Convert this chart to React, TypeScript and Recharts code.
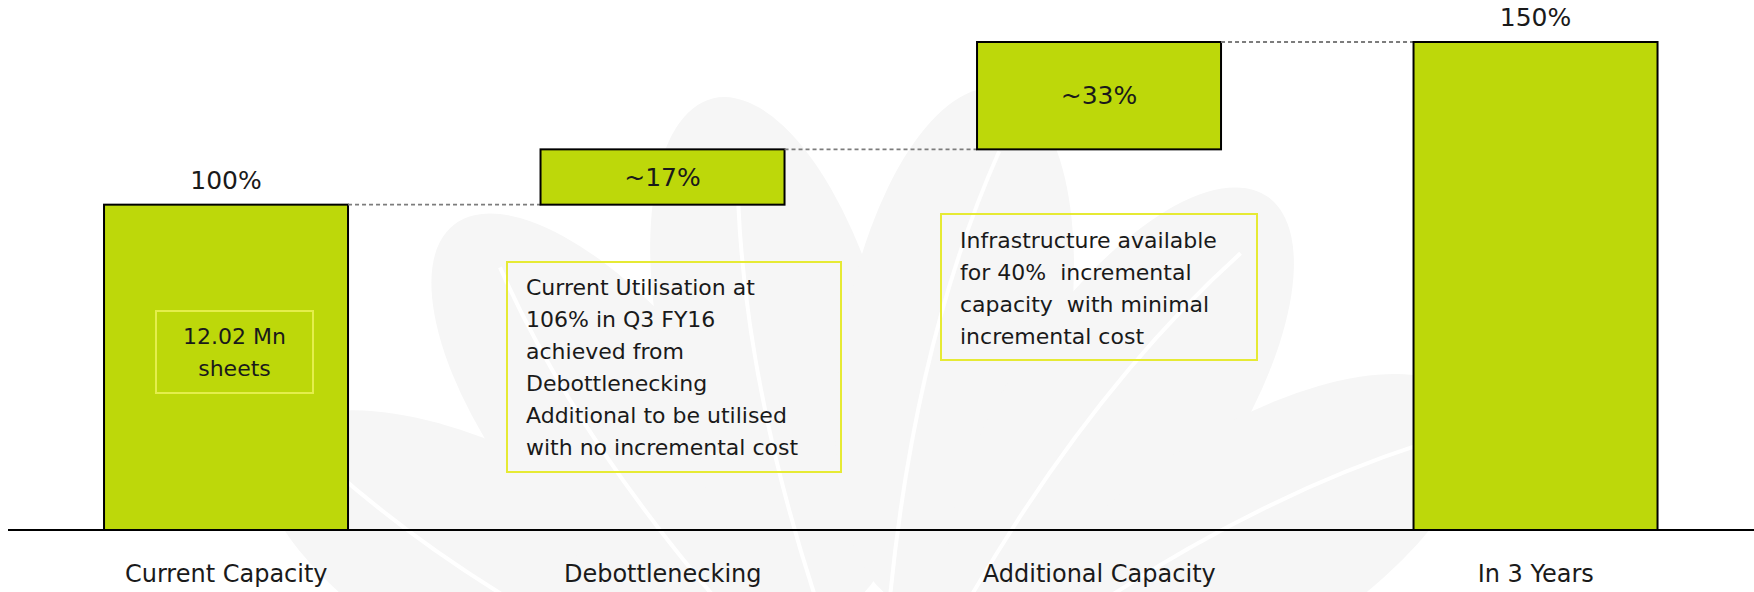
import React from "react";
import { BarChart, Bar, XAxis, YAxis, LabelList } from "recharts";

const categories = ["Current Capacity", "Debottlenecking", "Additional Capacity", "In 3 Years"];
const capacityValues = [100, 17, 33, 150];
const isTotal = [true, false, false, true];
const valueLabels = ["100%", "~17%", "~33%", "150%"];

const capacityNote = ["12.02 Mn", "sheets"];
const debottleneckNote = [
  "Current Utilisation at",
  "106% in Q3 FY16",
  "achieved from",
  "Debottlenecking",
  "Additional to be utilised",
  "with no incremental cost",
];
const infraNote = [
  "Infrastructure available",
  "for 40%  incremental",
  "capacity  with minimal",
  "incremental cost",
];

// waterfall: floating steps sit on the running total, totals start at 0
let running = 0;
const data = categories.map((name, i) => {
  const base = isTotal[i] ? 0 : running;
  running = isTotal[i] ? capacityValues[i] : running + capacityValues[i];
  return { name, base, value: capacityValues[i], label: valueLabels[i], total: isTotal[i] };
});

const FONT = "'DejaVu Sans', Verdana, sans-serif";
const GREEN = "#bdd80a";
const TEXT = "#1a1a1a";

// right edge / top of each drawn bar, so the next bar can draw its connector
const edges: { right: number; top: number }[] = [];

function StepBar(props: any) {
  const { x, y, width, height, payload } = props;
  const i = categories.indexOf(payload.name);
  edges[i] = { right: x + width, top: y };
  const prev = i > 0 ? edges[i - 1] : null;
  return (
    <g>
      {prev && (
        <line
          x1={prev.right}
          y1={prev.top}
          x2={x}
          y2={prev.top}
          stroke="#7c7c7c"
          strokeWidth={1.8}
          strokeDasharray="4 3"
        />
      )}
      <rect x={x} y={y} width={width} height={height} fill={GREEN} stroke="#000" strokeWidth={2} />
    </g>
  );
}

function ValueLabel(props: any) {
  const vb = props.x !== undefined ? props : props.viewBox || {};
  const { x, y, width, height } = vb;
  const i = valueLabels.indexOf(props.value);
  const cx = x + width / 2;
  if (isTotal[i]) {
    return (
      <text x={cx} y={y - 16} textAnchor="middle" fill={TEXT} fontSize={25} fontFamily={FONT}>
        {props.value}
      </text>
    );
  }
  return (
    <text
      x={cx}
      y={y + height / 2}
      textAnchor="middle"
      dominantBaseline="central"
      fill={TEXT}
      fontSize={25}
      fontFamily={FONT}
    >
      {props.value}
    </text>
  );
}

function NoteBox({ lines, style }: { lines: string[]; style: React.CSSProperties }) {
  return (
    <div
      style={{
        position: "absolute",
        boxSizing: "border-box",
        border: "2px solid #e6ea34",
        fontFamily: FONT,
        fontSize: 22,
        lineHeight: "32px",
        color: TEXT,
        whiteSpace: "pre",
        pointerEvents: "none",
        zIndex: 2,
        ...style,
      }}
    >
      {lines.map((l) => (
        <div key={l}>{l}</div>
      ))}
    </div>
  );
}

// faint fan-shaped logo behind the chart
const petalAngles = [-62, -38, -14, 10, 34, 58];

function Watermark() {
  const bx = 880;
  const by = 770;
  return (
    <svg width={1754} height={592} style={{ position: "absolute", left: 0, top: 0, zIndex: 0 }}>
      {petalAngles.map((a) => {
        const r = (a * Math.PI) / 180;
        const d = 430;
        const cx = bx + d * Math.sin(r);
        const cy = by - d * Math.cos(r);
        return (
          <g key={a} transform={`rotate(${a} ${cx} ${cy})`}>
            <ellipse cx={cx} cy={cy} rx={112} ry={262} fill="#f6f6f6" />
            <path
              d={`M ${cx - 20} ${cy + 260} Q ${cx - 40} ${cy} ${cx + 10} ${cy - 200}`}
              stroke="#ffffff"
              strokeWidth={4}
              fill="none"
            />
          </g>
        );
      })}
    </svg>
  );
}

export default function App() {
  return (
    <div
      style={{
        position: "absolute",
        left: 0,
        top: 0,
        width: 1754,
        height: 592,
        overflow: "hidden",
        background: "#fff",
      }}
    >
      <style>{"body{margin:0;overflow:hidden}"}</style>
      <Watermark />
      <div style={{ position: "absolute", left: 0, top: 0, zIndex: 1 }}>
        <BarChart
          width={1754}
          height={592}
          data={data}
          margin={{ top: 42, right: 0, left: 8, bottom: 0 }}
          barCategoryGap="22%"
        >
          <XAxis
            dataKey="name"
            height={62}
            axisLine={{ stroke: "#000", strokeWidth: 2 }}
            tickLine={false}
            tickSize={0}
            tickMargin={35}
            tick={{ fill: TEXT, fontSize: 24, fontFamily: FONT }}
            interval={0}
          />
          <YAxis hide domain={[0, 150]} />
          <Bar dataKey="base" stackId="w" fill="transparent" isAnimationActive={false} />
          <Bar dataKey="value" stackId="w" shape={StepBar} isAnimationActive={false}>
            <LabelList dataKey="label" content={ValueLabel} />
          </Bar>
        </BarChart>
      </div>
      <NoteBox
        lines={capacityNote}
        style={{ left: 155, top: 310, width: 159, height: 84, paddingTop: 9, textAlign: "center", borderColor: "#e4ee4c" }}
      />
      <NoteBox
        lines={debottleneckNote}
        style={{ left: 506, top: 261, width: 336, height: 212, paddingTop: 9, paddingLeft: 18 }}
      />
      <NoteBox
        lines={infraNote}
        style={{ left: 940, top: 213, width: 318, height: 148, paddingTop: 10, paddingLeft: 18 }}
      />
    </div>
  );
}
